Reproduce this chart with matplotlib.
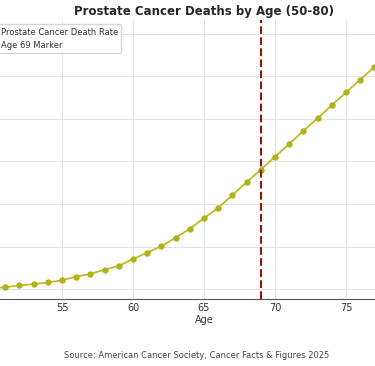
import matplotlib
matplotlib.use("Agg")
import matplotlib.pyplot as plt

## Data
## ====
ages = list(range(50, 81))
death_rate = [2, 5, 9, 12, 16, 21, 30, 36, 46, 55,
              71, 86, 101, 121, 142, 167, 191, 221, 251, 281,
              311, 341, 372, 401, 432, 462, 492, 522, 552, 582, 612]
marker_age = 69

x_ticks = [50, 55, 60, 65, 70, 75, 80]
y_ticks = [0, 100, 200, 300, 400, 500, 600]

title = 'Prostate Cancer Deaths by Age (50-80)'
source = 'Source: American Cancer Society, Cancer Facts & Figures 2025'

## Draw
## ====
fig = plt.figure(figsize=(3.75, 3.66), dpi=100)
# the axes run past both sides of the picture, as in the reference crop
ax = fig.add_axes([-30.3 / 375, (366 - 299.3) / 366, 468.6 / 375, 279.3 / 366])

ax.plot(ages, death_rate, color='#bcbd22', marker='o', markersize=3.6,
        markerfacecolor='#b0b11c', markeredgecolor='#b0b11c', linewidth=1.3,
        label='Prostate Cancer Death Rate')
ax.axvline(marker_age, color='#8b1a00', linestyle='--', linewidth=1.5, label='Age 69 Marker')

ax.set_xlim(48.5, 81.5)
ax.set_ylim(-23.5, 632)
ax.set_xticks(x_ticks)
ax.set_yticks(y_ticks)
ax.grid(True, color='#e3e3e3', linestyle='-', linewidth=0.7)
ax.set_axisbelow(True)
for side in ['top', 'right', 'left']:
    ax.spines[side].set_visible(False)
ax.spines['bottom'].set_color('#555555')
ax.tick_params(length=0, labelsize=7, labelcolor='#333333', pad=3)

ax.set_title(title, fontsize=8.5, fontweight='bold', color='#262626', pad=3.5)
ax.set_xlabel('Age', fontsize=7, color='#333333', labelpad=1)
ax.legend(loc='upper left', fontsize=6, frameon=True, edgecolor='#cccccc', labelcolor='#333333')

fig.text(197 / 375, 1 - 355 / 366, source, ha='center', va='center', fontsize=6, color='#444444')

plt.savefig('out.png', dpi=100)
